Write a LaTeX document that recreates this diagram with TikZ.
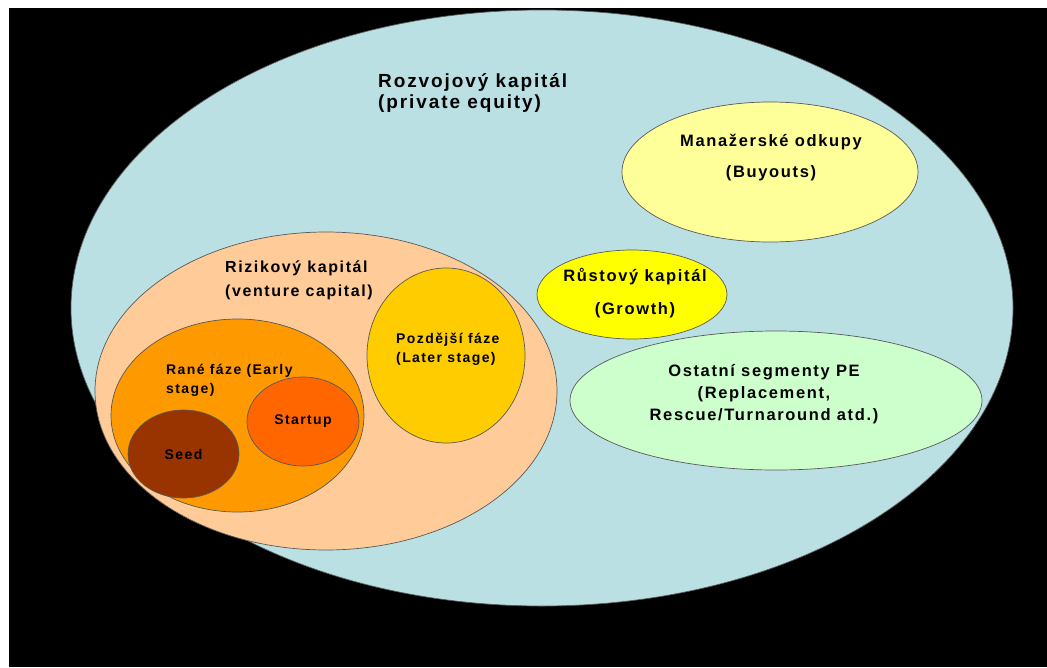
\documentclass[tikz,border=0pt]{standalone}
\usepackage{fontspec}
\setmainfont{Liberation Sans}[LetterSpace=10]
\usetikzlibrary{shapes.geometric,positioning}

\definecolor{peblue}{HTML}{BBE0E3}
\definecolor{buyyellow}{HTML}{FFFF99}
\definecolor{growyellow}{HTML}{FFFF00}
\definecolor{othergreen}{HTML}{CCFFCC}
\definecolor{vcpeach}{HTML}{FFCC99}
\definecolor{earlyorange}{HTML}{FF9900}
\definecolor{startorange}{HTML}{FF6600}
\definecolor{seedbrown}{HTML}{993300}
\definecolor{lategold}{HTML}{FFCC00}

\begin{document}
\begin{tikzpicture}[x=1pt,y=-1pt,
    blob/.style={ellipse,draw=black!65,line width=0.7pt,inner sep=0pt},
    lbl/.style 2 args={inner sep=0pt,font=\bfseries\fontsize{#1}{#2}\selectfont}]
   % frame
   \path[fill=white] (0,0) rectangle (1047,667);
   \path[fill=black] (9,8) rectangle (1047,667);
   % private equity
   \node[blob,fill=peblue,minimum width=942pt,minimum height=596pt] (pe) at (542,308) {};
   \node[lbl={19}{21},align=left,anchor=west] (petxt) at (378,93) {Rozvojový kapitál\\(private equity)};
   % buyouts, growth, others
   \node[blob,fill=buyyellow,minimum width=296pt,minimum height=140pt] (buy) at (770,172) {};
   \node[lbl={16.5}{31},align=center] (buytxt) at (771,158) {Manažerské odkupy\\(Buyouts)};
   \node[blob,fill=growyellow,minimum width=190pt,minimum height=89pt] (grow) at (632,294.5) {};
   \node[lbl={16.5}{33},align=center] (growtxt) at (635,293) {Růstový kapitál\\(Growth)};
   \node[blob,fill=othergreen,minimum width=412pt,minimum height=139pt] (other) at (776,400.5) {};
   \node[lbl={16.5}{22},align=center] (othertxt) at (764,394) {Ostatní segmenty PE\\(Replacement,\\Rescue/Turnaround atd.)};
   % venture capital
   \node[blob,fill=vcpeach,minimum width=462pt,minimum height=318pt] (vc) at (326,391) {};
   \node[lbl={16}{24},align=left,anchor=west] (vctxt) at (225,280) {Rizikový kapitál\\(venture capital)};
   \node[blob,fill=lategold,minimum width=158pt,minimum height=175pt] (late) at (446,355.5) {};
   \node[lbl={14}{19},align=left,anchor=west] (latetxt) at (396,349) {Pozdější fáze\\(Later stage)};
   \node[blob,fill=earlyorange,minimum width=253pt,minimum height=193pt] (early) at (237.5,415.5) {};
   \node[lbl={14}{19},align=left,anchor=west] (earlytxt) at (166,380) {Rané fáze (Early\\stage)};
   \node[blob,fill=startorange,minimum width=112pt,minimum height=89pt,lbl={14}{19}] (startup) at (303,421.5) {Startup};
   \node[blob,fill=seedbrown,minimum width=111pt,minimum height=88pt,lbl={14}{19}] (seed) at (183.5,454) {Seed};
\end{tikzpicture}
\end{document}
